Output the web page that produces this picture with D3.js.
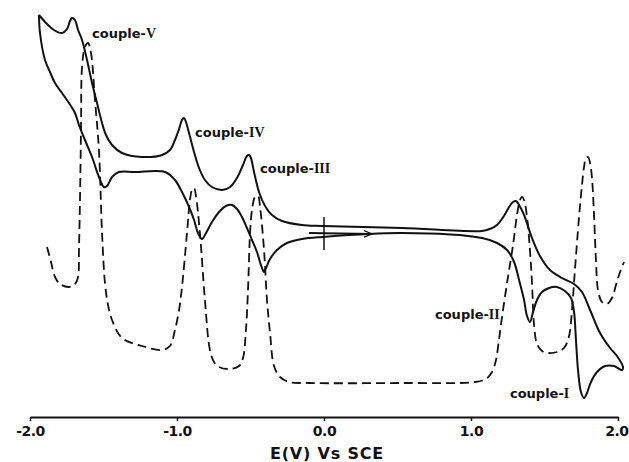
<!DOCTYPE html>
<html><head><meta charset="utf-8">
<script src="https://cdn.jsdelivr.net/npm/d3@7"></script>
<style>body{margin:0;background:#fff}svg{display:block}</style>
</head><body>
<script>
// Potential (V vs SCE) and current (arbitrary units)
const solidE = [-1.939,-1.884,-1.837,-1.782,-1.748,-1.728,-1.714,-1.694,-1.673,-1.646,-1.612,-1.578,-1.544,-1.510,-1.483,-1.442,-1.374,-1.238,-1.102,-1.048,-1.014,-0.986,-0.966,-0.952,-0.939,-0.918,-0.884,-0.850,-0.810,-0.762,-0.694,-0.639,-0.592,-0.551,-0.524,-0.510,-0.497,-0.476,-0.442,-0.401,-0.354,-0.286,-0.150,-0.014,0.531,1.075,1.129,1.177,1.224,1.259,1.286,1.306,1.327,1.361,1.415,1.469,1.537,1.619,1.701,1.755,1.810,1.878,1.946,1.993,2.034,2.027,
  1.973,1.912,1.857,1.816,1.789,1.769,1.748,1.728,1.714,1.701,1.680,1.639,1.585,1.531,1.483,1.449,1.422,1.401,1.381,1.361,1.327,1.293,1.245,1.177,1.075,0.531,-0.014,-0.150,-0.252,-0.320,-0.367,-0.395,-0.408,-0.429,-0.456,-0.490,-0.524,-0.558,-0.592,-0.626,-0.667,-0.714,-0.762,-0.803,-0.830,-0.857,-0.884,-0.918,-0.966,-1.014,-1.082,-1.286,-1.395,-1.442,-1.476,-1.497,-1.531,-1.578,-1.626,-1.667,-1.694,-1.735,-1.782,-1.830,-1.864,-1.898,-1.932,-1.939];
const solidI = [21.7,20.8,20.2,19.9,20.3,21.1,21.4,21.2,20.2,19.2,17.2,14.9,12.9,10.9,9.7,8.7,7.9,7.5,7.7,8.2,9.2,10.3,11.2,11.4,11.0,9.9,8.0,6.4,5.2,4.5,4.2,4.5,5.4,6.7,7.6,7.7,7.4,6.0,4.0,2.6,1.7,1.1,0.7,0.6,0.4,0.1,0.3,0.7,1.6,2.5,3.0,3.1,2.7,1.7,-0.6,-2.4,-3.8,-4.6,-5.2,-6.0,-7.8,-10.1,-11.6,-12.4,-13.5,-13.8,
  -13.4,-13.4,-14.0,-15.0,-16.1,-16.6,-16.0,-13.8,-10.8,-8.0,-6.6,-5.9,-5.5,-5.6,-6.0,-6.8,-8.0,-9.0,-8.4,-6.8,-4.8,-3.0,-1.8,-1.1,-0.6,-0.1,-0.5,-0.7,-1.1,-1.8,-2.7,-3.6,-4.0,-3.3,-2.0,-0.8,0.4,1.5,2.3,2.7,2.6,2.0,1.0,-0.1,-0.7,-0.1,1.2,2.5,4.0,5.2,6.0,6.0,6.0,5.5,4.6,4.5,5.5,7.5,9.2,10.7,11.9,12.9,13.9,14.9,16.0,17.2,19.9,21.7];

const dashE = [-1.884,-1.857,-1.830,-1.796,-1.735,-1.694,-1.673,-1.667,-1.660,-1.653,-1.646,-1.626,-1.605,-1.585,-1.558,-1.531,-1.510,-1.490,-1.469,-1.442,-1.374,-1.238,-1.102,-1.048,-1.014,-0.986,-0.966,-0.932,-0.912,-0.898,-0.884,-0.871,-0.844,-0.810,-0.776,-0.748,-0.714,-0.646,-0.578,-0.551,-0.531,-0.517,-0.503,-0.490,-0.469,-0.449,-0.435,-0.408,-0.388,-0.367,-0.340,-0.299,-0.238,-0.102,0.531,1.027,1.102,1.143,1.170,1.190,1.211,1.238,1.259,1.286,1.313,1.333,1.347,1.361,1.381,1.401,1.415,1.429,1.449,1.483,1.531,1.585,1.633,1.667,1.687,1.707,1.735,1.755,1.769,1.782,1.796,1.810,1.823,1.837,1.850,1.864,1.891,1.925,1.959,1.986,2.014,2.041];
const dashI = [-1.5,-3.0,-4.5,-5.2,-5.5,-5.2,-4.5,-1.8,3.2,10.2,16.5,18.5,18.9,17.9,13.2,8.2,-0.1,-5.1,-7.3,-8.8,-10.6,-11.4,-11.8,-11.4,-9.8,-7.8,-5.5,-0.1,3.2,4.2,4.4,3.6,-0.1,-6.8,-11.8,-13.0,-13.5,-13.7,-13.4,-12.6,-9.8,-5.8,-0.1,2.2,3.5,3.6,2.5,-1.8,-6.8,-10.1,-13.4,-14.5,-15.0,-15.1,-15.1,-15.0,-14.7,-14.0,-12.8,-10.8,-8.5,-5.8,-3.8,-1.3,1.7,3.2,3.5,3.2,1.5,-1.8,-5.1,-9.3,-11.2,-11.9,-12.1,-12.0,-11.6,-10.4,-7.8,-3.8,1.5,4.7,6.5,7.4,7.5,6.9,5.4,1.7,-2.8,-5.8,-7.0,-7.2,-6.6,-5.3,-4.0,-3.0];

const tickValues = [-2, -1, 0, 1, 2];
const tickLabels = ["-2.0", "-1.0", "0.0", "1.0", "2.0"];
const axisTitle = "E(V) Vs SCE";

// couple labels (anchor at left start)
const coupleNames = ["couple-", "couple-", "couple-", "couple-", "couple-"];
const coupleNumerals = ["V", "IV", "III", "II", "I"];
const coupleE = [-1.578, -0.877, -0.435, 0.755, 1.265];
const coupleI = [19.9, 10.0, 6.4, -8.2, -16.1];

// start marker and scan direction arrow
const markerE = [0, 0], markerI = [1.5, -1.8];
const arrowE = [-0.102, 0.327], arrowI = [-0.1, -0.2];

const W = 629, H = 462;
const x = d3.scaleLinear().domain([-2, 2]).range([30, 618]);
const y = d3.scaleLinear().domain([-20, 20]).range([432, 32]);

const svg = d3.select("body").append("svg").attr("width", W).attr("height", H);

const line = d3.line().x(d => x(d[0])).y(d => y(d[1])).curve(d3.curveCatmullRom.alpha(0.5));

svg.append("path")
  .datum(dashE.map((e, i) => [e, dashI[i]]))
  .attr("d", line).attr("fill", "none").attr("stroke", "#111")
  .attr("stroke-width", 1.8).attr("stroke-dasharray", "9,5");

svg.append("path")
  .datum(solidE.map((e, i) => [e, solidI[i]]))
  .attr("d", line).attr("fill", "none").attr("stroke", "#111")
  .attr("stroke-width", 2).attr("stroke-linejoin", "round");

svg.append("line")
  .attr("x1", x(markerE[0])).attr("x2", x(markerE[1]))
  .attr("y1", y(markerI[0])).attr("y2", y(markerI[1]))
  .attr("stroke", "#111").attr("stroke-width", 1.5);

svg.append("defs").append("marker")
  .attr("id", "arr").attr("viewBox", "0 0 10 10").attr("refX", 10).attr("refY", 5)
  .attr("markerWidth", 10).attr("markerHeight", 8).attr("markerUnits", "userSpaceOnUse")
  .attr("orient", "auto")
  .append("path").attr("d", "M0,1 L10,5 L0,9").attr("fill", "none").attr("stroke", "#111").attr("stroke-width", 1.5);

svg.append("line")
  .attr("x1", x(arrowE[0])).attr("x2", x(arrowE[1]))
  .attr("y1", y(arrowI[0])).attr("y2", y(arrowI[1]))
  .attr("stroke", "#111").attr("stroke-width", 1.8).attr("marker-end", "url(#arr)");

// axis
const axis = d3.axisBottom(x).tickValues(tickValues)
  .tickFormat((d, i) => tickLabels[i]).tickSizeInner(4).tickSizeOuter(0).tickPadding(5);
const gA = svg.append("g").attr("transform", "translate(0,417)").call(axis);
gA.select(".domain").attr("stroke", "#111").attr("stroke-width", 2);
gA.selectAll(".tick line").attr("stroke", "#111").attr("stroke-width", 1.5);
gA.selectAll(".tick text").attr("font-family", "DejaVu Sans").attr("font-weight", "bold")
  .attr("font-size", 14).attr("fill", "#111").attr("letter-spacing", -0.5);
gA.selectAll(".tick text").filter(d => d === 2).attr("text-anchor", "end").attr("x", 10);

svg.append("text").attr("x", x(0) + 3).attr("y", 459).attr("text-anchor", "middle")
  .attr("font-family", "DejaVu Sans").attr("font-weight", "bold").attr("font-size", 16)
  .attr("letter-spacing", 0.8).attr("fill", "#111").text(axisTitle);

coupleNames.forEach((n, i) => {
  const t = svg.append("text").attr("x", x(coupleE[i])).attr("y", y(coupleI[i]) + 5)
    .attr("font-family", "DejaVu Sans").attr("font-weight", "bold").attr("font-size", 13)
    .attr("fill", "#111");
  t.append("tspan").text(n);
  t.append("tspan").attr("font-family", "Liberation Serif").attr("font-size", 14).text(coupleNumerals[i]);
});
</script>
</body></html>
